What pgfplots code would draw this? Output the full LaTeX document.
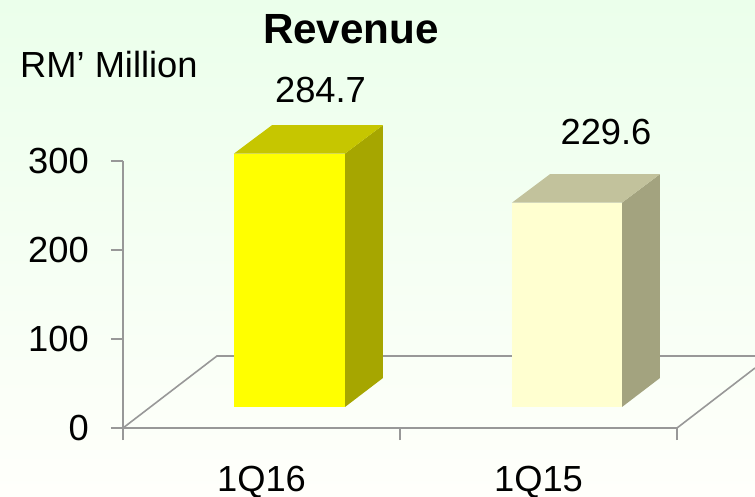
\documentclass[border=0pt]{standalone}
\usepackage{fontspec}
\setmainfont{Liberation Sans}
\usepackage{pgfplots}
\pgfplotsset{compat=1.18}
\definecolor{axisgrey}{HTML}{989898}
\definecolor{bgtop}{HTML}{EBFFEB}
\definecolor{bgbot}{HTML}{FFFFFB}
\definecolor{yfront}{HTML}{FFFF00}
\definecolor{ytop}{HTML}{C6C600}
\definecolor{yside}{HTML}{A6A600}
\definecolor{pfront}{HTML}{FFFFD0}
\definecolor{ptop}{HTML}{C2C29C}
\definecolor{pside}{HTML}{A3A37F}
\newcommand{\lab}{\fontsize{36.3}{36}\selectfont}
\begin{document}
\begin{tikzpicture}
    \shade[top color=bgtop, bottom color=bgbot, use as bounding box] (0,0) rectangle (755pt,496pt);
    \begin{axis}[
        at={(123pt,68pt)},
        anchor=south west,
        scale only axis,
        width=554pt,
        height=267pt,
        xmin=0, xmax=2,
        ymin=0, ymax=300,
        clip=false,
        axis x line=bottom,
        axis y line=left,
        axis line style={-, color=axisgrey, line width=1.6pt},
        tick style={color=axisgrey, line width=1.6pt},
        tick align=outside,
        major tick length=12pt,
        xtick={0,1,2},
        xticklabels={},
        extra x ticks={0.5,1.5},
        extra x tick labels={1Q16,1Q15},
        extra x tick style={major tick length=0pt, xticklabel style={font=\lab, inner sep=0pt, yshift=-38pt}},
        ytick={0,100,200,300},
        yticklabel style={font=\lab, inner sep=0pt, xshift=-22pt},
        /pgf/number format/assume math mode=true,
    ]
    % floor of the 3D plot
    \addplot[color=axisgrey, line width=1.6pt] coordinates {(0,0) (0.339,80.9) (2.2816,80.9)};
    \addplot[color=axisgrey, line width=1.6pt] coordinates {(2,0) (2.2816,67.4)};
    % 1Q16: 284.7 standing on the floor offset 23.6
    \addplot[fill=yside, draw=none] coordinates {(0.8014,23.6) (0.9386,56.2) (0.9386,340.3) (0.8014,308.3)} -- cycle;
    \addplot[fill=ytop, draw=none] coordinates {(0.4007,308.3) (0.5379,340.3) (0.9386,340.3) (0.8014,308.3)} -- cycle;
    \addplot[fill=yfront, draw=none] coordinates {(0.4007,23.6) (0.8014,23.6) (0.8014,308.3) (0.4007,308.3)} -- cycle;
    % 1Q15: 229.6
    \addplot[fill=pside, draw=none] coordinates {(1.8014,23.6) (1.9386,56.2) (1.9386,285.2) (1.8014,253.2)} -- cycle;
    \addplot[fill=ptop, draw=none] coordinates {(1.4043,253.2) (1.5415,285.2) (1.9386,285.2) (1.8014,253.2)} -- cycle;
    \addplot[fill=pfront, draw=none] coordinates {(1.4043,23.6) (1.8014,23.6) (1.8014,253.2) (1.4043,253.2)} -- cycle;
    \end{axis}
    \node[anchor=base, font=\lab, inner sep=0pt] at (320.5pt,393pt) {284.7};
    \node[anchor=base, font=\lab, inner sep=0pt] at (606pt,351pt) {229.6};
    \node[anchor=base, inner sep=0pt, font=\fontsize{42.2}{42}\selectfont\bfseries] at (351pt,452pt) {Revenue};
    \node[anchor=base west, font=\lab, inner sep=0pt] at (20pt,418pt) {RM’ Million};
\end{tikzpicture}
\end{document}
